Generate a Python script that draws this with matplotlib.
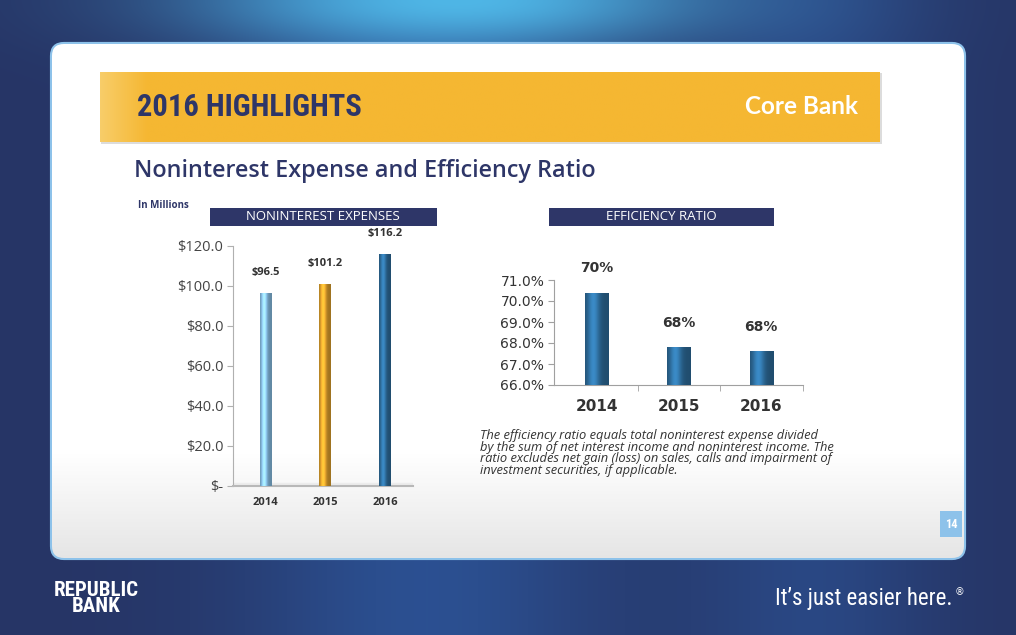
import numpy as np
import matplotlib
matplotlib.use("Agg")
import matplotlib.pyplot as plt
from matplotlib.patches import FancyBboxPatch, Rectangle
from matplotlib.colors import to_rgb

# datos
years = ["2014", "2015", "2016"]
expenses = [96.5, 101.2, 116.2]
expense_labels = ["$96.5", "$101.2", "$116.2"]
expense_ticks = [0, 20, 40, 60, 80, 100, 120]
expense_tick_labels = ["$-", "$20.0", "$40.0", "$60.0", "$80.0", "$100.0", "$120.0"]
ratio = [70.4, 67.8, 67.6]
ratio_labels = ["70%", "68%", "68%"]
ratio_ticks = [66, 67, 68, 69, 70, 71]

bar_colors = ["#8cc4ea", "#e3a42e", "#2f6f9f"]
ratio_color = "#2f6f9f"
navy = "#2e3668"
narrow = ["Roboto Condensed", "Roboto", "DejaVu Sans"]

W, H = 1016, 635
fig = plt.figure(figsize=(W / 100, H / 100), dpi=100)

# fondo
bg = fig.add_axes([0, 0, 1, 1])
bg.set_xlim(0, W)
bg.set_ylim(H, 0)
bg.axis("off")

xx, yy = np.meshgrid(np.linspace(0, 1, W), np.linspace(0, 1, H))
base = np.array(to_rgb("#263566"))
glow = np.array(to_rgb("#2f62ae"))
cyan = np.array(to_rgb("#4fb6e6"))
band = np.exp(-((xx - 0.42) / 0.18) ** 2) * 0.6 + np.exp(-((xx - 0.8) / 0.12) ** 2) * 0.4
top = np.exp(-((xx - 0.45) / 0.25) ** 2) * np.exp(-(yy / 0.08) ** 2)
img = base[None, None, :] * (1 - band[..., None]) + glow[None, None, :] * band[..., None]
img = img * (1 - top[..., None]) + cyan[None, None, :] * top[..., None]
bg.imshow(img, extent=(0, W, H, 0), aspect="auto", zorder=0)

# panel blanco
panel = FancyBboxPatch((52, 44), 912, 514, boxstyle="round,pad=0,rounding_size=12",
                       facecolor="white", edgecolor="#8dc2ea", linewidth=3, zorder=1)
bg.add_patch(panel)
pg = np.linspace(0, 1, 200)
pg = np.clip((pg - 0.8) / 0.2, 0, 1)
pimg = np.ones((200, 1, 3)) * (1 - 0.1 * pg[:, None, None])
pim = bg.imshow(pimg, extent=(52, 964, 558, 44), aspect="auto", zorder=2)
pim.set_clip_path(panel)

# cinta amarilla
bg.add_patch(Rectangle((101, 73), 781, 71, facecolor="#dcdcdc", edgecolor="none", zorder=3))
banner = Rectangle((100, 72), 780, 70, facecolor="#f5b732", edgecolor="none", zorder=4)
bg.add_patch(banner)
bx = np.linspace(0, 1, 400)
bimg = np.ones((1, 400, 3)) * np.array(to_rgb("#f5b732"))
fade = np.clip(1 - bx / 0.06, 0, 1)[None, :, None]
bimg = bimg * (1 - fade * 0.5) + np.array(to_rgb("#fbe3a0")) * fade * 0.5
bim = bg.imshow(bimg, extent=(100, 880, 142, 72), aspect="auto", zorder=4)
bim.set_clip_path(banner)
bg.text(137, 107, "2016 HIGHLIGHTS", fontsize=22, fontweight="bold", color=navy,
        family=narrow, va="center", zorder=5)
bg.text(858, 107, "Core Bank", fontsize=17.5, color="white", family="Lato",
        fontweight="bold", ha="right", va="center", zorder=5)

bg.text(134, 171, "Noninterest Expense and Efficiency Ratio", fontsize=16.8,
        color=navy, family="Open Sans", fontweight="semibold", va="center", zorder=5)
bg.text(138, 205, "In Millions", fontsize=7, color=navy, fontweight="bold",
        family="Open Sans", va="center", zorder=5)

# cabeceras
bg.add_patch(Rectangle((210, 208), 227, 18, facecolor=navy, edgecolor="none", zorder=5))
bg.text(323, 217, "NONINTEREST EXPENSES", fontsize=9.5, color="white", family="Open Sans",
        ha="center", va="center", zorder=6)
bg.add_patch(Rectangle((549, 208), 225, 18, facecolor=navy, edgecolor="none", zorder=5))
bg.text(661, 217, "EFFICIENCY RATIO", fontsize=9.5, color="white", family="Open Sans",
        ha="center", va="center", zorder=6)

# nota
bg.text(480, 453, "The efficiency ratio equals total noninterest expense divided\n"
        "by the sum of net interest income and noninterest income. The\n"
        "ratio excludes net gain (loss) on sales, calls and impairment of\n"
        "investment securities, if applicable.",
        fontsize=9.3, style="italic", color="#333333", family="Open Sans",
        va="center", linespacing=0.88, zorder=5)

# numero de pagina
bg.add_patch(Rectangle((940, 511), 22, 26, facecolor="#8dc2ea", edgecolor="none", zorder=5))
bg.text(951, 524, "14", fontsize=9, color="white", fontweight="bold",
        family=narrow, ha="center", va="center", zorder=6)

# pie
bg.text(96, 598, "REPUBLIC\nBANK", fontsize=15, color="white", fontweight="bold",
        family=narrow, ha="center", va="center", linespacing=0.8, zorder=5)
bg.text(775, 598, "It\u2019s just easier here.", fontsize=16.5, color="white",
        family=narrow, va="center", zorder=5)
bg.text(955, 592, "\u00ae", fontsize=7, color="white", va="center", zorder=5)


def cylinder(ax, bars, colors):
    g = np.linspace(0, 1, 60)
    shade = 0.7 + 0.55 * np.exp(-((g - 0.35) / 0.25) ** 2)
    for b, c in zip(bars, colors):
        rgb = np.clip(np.array(to_rgb(c))[None, None, :] * shade[None, :, None], 0, 1)
        x0, y0 = b.get_x(), b.get_y()
        im = ax.imshow(rgb, extent=(x0, x0 + b.get_width(), y0, y0 + b.get_height()),
                       aspect="auto", zorder=3)
        im.set_clip_path(b)


# grafico izquierdo
ax1 = fig.add_axes([233 / W, 1 - 486 / H, 180 / W, 240 / H])
ax1.patch.set_alpha(0)
x = np.arange(len(years))
bars1 = ax1.bar(x, expenses, width=0.2, color=bar_colors, edgecolor="none", zorder=2)
cylinder(ax1, bars1, bar_colors)
ax1.set_xlim(-0.55, 2.47)
ax1.set_ylim(0, 120)
ax1.set_yticks(expense_ticks)
ax1.set_yticklabels(expense_tick_labels, fontsize=10.5, color="#444444", family="Open Sans")
ax1.set_xticks(x)
ax1.set_xticklabels(years, fontsize=8, fontweight="bold", color="#333333", family="Open Sans")
ax1.tick_params(axis="x", length=0, pad=8)
ax1.tick_params(axis="y", length=4, color="#b0b0b0", pad=3)
for s in ["top", "right"]:
    ax1.spines[s].set_visible(False)
ax1.spines["left"].set_color("#b0b0b0")
ax1.spines["bottom"].set_color("#b8b8b8")
ax1.spines["bottom"].set_linewidth(1.5)
ax1.axhspan(0, 1.5, color="#ececec", zorder=1)
for xi, v, t in zip(x, expenses, expense_labels):
    ax1.text(xi, v + 10, t, ha="center", va="center", fontsize=8, fontweight="bold",
             color="#333333", family="Open Sans")

# grafico derecho
ax2 = fig.add_axes([554 / W, 1 - 385 / H, 249 / W, 105 / H])
ax2.patch.set_alpha(0)
bars2 = ax2.bar(x, np.array(ratio) - 66, bottom=66, width=0.28, color=ratio_color,
                edgecolor="none", zorder=2)
cylinder(ax2, bars2, [ratio_color] * 3)
ax2.set_xlim(-0.52, 2.51)
ax2.set_ylim(66, 71)
ax2.set_yticks(ratio_ticks)
ax2.set_yticklabels([f"{t:.1f}%" for t in ratio_ticks], fontsize=10, color="#333333")
ax2.set_xticks(x)
ax2.set_xticklabels(years, fontsize=11, fontweight="bold", color="#333333")
ax2.set_xticks([0.5, 1.5, 2.51], minor=True)
ax2.tick_params(axis="x", which="major", length=0, pad=10)
ax2.tick_params(axis="x", which="minor", length=4, color="#a0a0a0")
ax2.tick_params(axis="y", length=4, color="#a0a0a0", pad=3)
for s in ["top", "right"]:
    ax2.spines[s].set_visible(False)
ax2.spines["left"].set_color("#a0a0a0")
ax2.spines["bottom"].set_color("#a0a0a0")
for xi, v, t in zip(x, ratio, ratio_labels):
    ax2.text(xi, v + 1.15, t, ha="center", va="center", fontsize=10, fontweight="bold",
             color="#333333")

fig.savefig("out.png", dpi=100)
